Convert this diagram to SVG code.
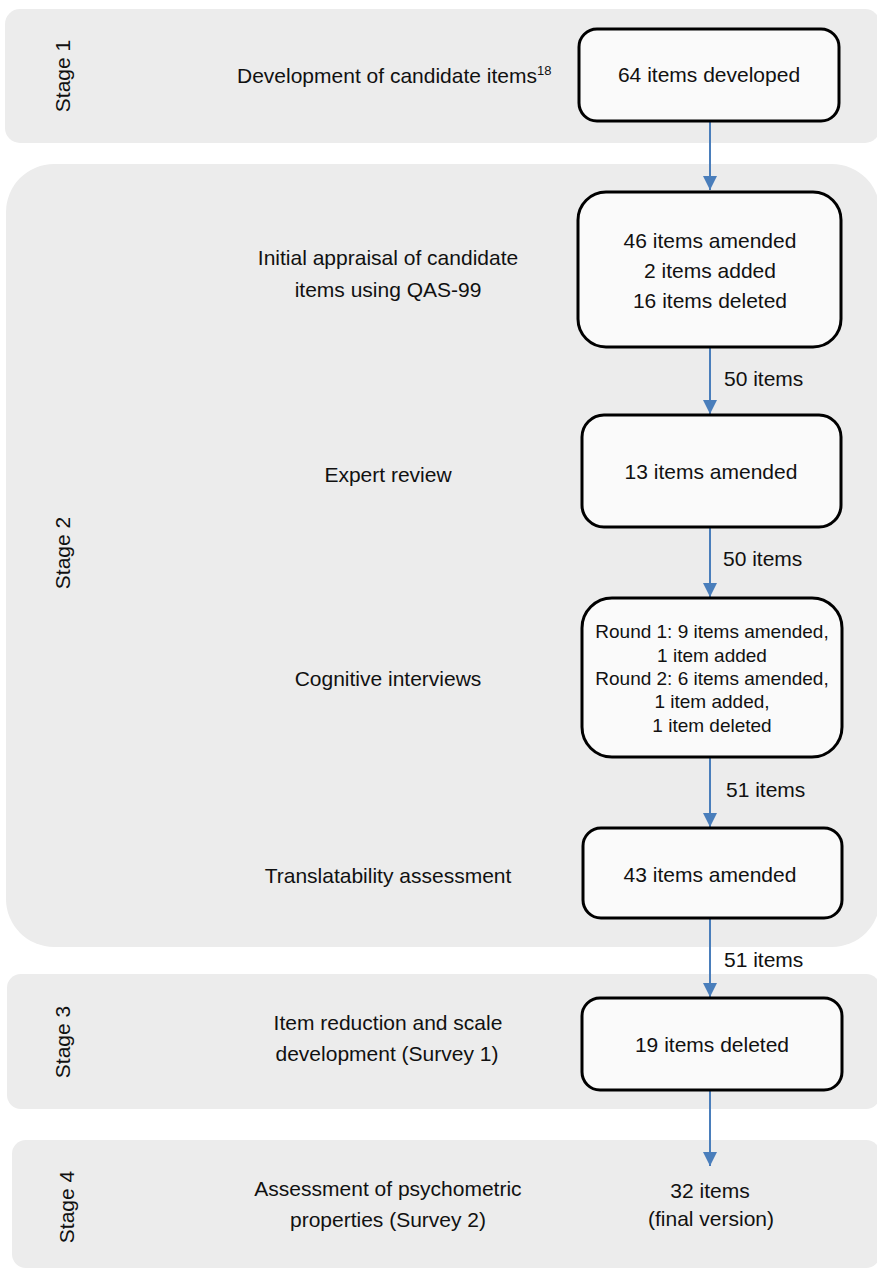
<svg xmlns="http://www.w3.org/2000/svg" width="877" height="1270" viewBox="0 0 877 1270">
<defs>
<style>
.stage{fill:#ececec;}
.box{fill:#fafafa;stroke:#000;stroke-width:3;}
.t{font-family:"Liberation Sans",Arial,sans-serif;font-size:21px;fill:#111;}
.c{text-anchor:middle;}
.sm{font-size:19px;}
.conn{stroke:#4a7ebb;stroke-width:2;fill:none;marker-end:url(#ah);}
</style>
<marker id="ah" viewBox="0 0 14 14" refX="14" refY="7" markerWidth="14" markerHeight="14" markerUnits="userSpaceOnUse" orient="auto">
<path d="M0,0 L14,7 L0,14 Z" fill="#4a7ebb"/>
</marker>
</defs>
<rect width="877" height="1270" fill="#fff"/>
<g id="stage1">
<rect class="stage" x="5" y="9" width="875" height="134" rx="15"/>
<text class="t c" transform="rotate(-90 62 76)" x="62" y="76" dominant-baseline="central">Stage 1</text>
<text class="t" x="237" y="83">Development of candidate items<tspan font-size="13" dy="-8">18</tspan></text>
</g>
<g id="stage2">
<rect class="stage" x="6" y="164" width="874" height="783" rx="48"/>
<text class="t c" transform="rotate(-90 62 553)" x="62" y="553" dominant-baseline="central">Stage 2</text>
<text class="t c" x="388" y="265">Initial appraisal of candidate</text>
<text class="t c" x="388" y="297">items using QAS-99</text>
<text class="t c" x="388" y="482">Expert review</text>
<text class="t c" x="388" y="686">Cognitive interviews</text>
<text class="t c" x="388" y="883">Translatability assessment</text>
</g>
<g id="stage3">
<rect class="stage" x="7" y="974" width="873" height="135" rx="14"/>
<text class="t c" transform="rotate(-90 62 1042)" x="62" y="1042" dominant-baseline="central">Stage 3</text>
<text class="t c" x="388" y="1030">Item reduction and scale</text>
<text class="t c" x="387" y="1061">development (Survey 1)</text>
</g>
<g id="stage4">
<rect class="stage" x="12" y="1140" width="868" height="128" rx="14"/>
<text class="t c" transform="rotate(-90 66 1207)" x="66" y="1207" dominant-baseline="central">Stage 4</text>
<text class="t c" x="388" y="1196">Assessment of psychometric</text>
<text class="t c" x="388" y="1227">properties (Survey 2)</text>
<text class="t c" x="710" y="1198">32 items</text>
<text class="t c" x="711" y="1226">(final version)</text>
</g>
<g id="connectors">
<line class="conn" x1="710" y1="121" x2="710" y2="190"/>
<line class="conn" x1="710" y1="347" x2="710" y2="414"/>
<line class="conn" x1="710" y1="527" x2="710" y2="597"/>
<line class="conn" x1="710" y1="757" x2="710" y2="827"/>
<line class="conn" x1="710" y1="919" x2="710" y2="997"/>
<line class="conn" x1="710" y1="1090" x2="710" y2="1166"/>
<text class="t" x="724" y="386">50 items</text>
<text class="t" x="723" y="566">50 items</text>
<text class="t" x="726" y="797">51 items</text>
<text class="t" x="724" y="967">51 items</text>
</g>
<g id="n1">
<rect class="box" x="579" y="29" width="260" height="92" rx="18"/>
<text class="t c" x="709" y="82">64 items developed</text>
</g>
<g id="n2">
<rect class="box" x="578" y="192" width="263" height="155" rx="28"/>
<text class="t c" x="710" y="248">46 items amended</text>
<text class="t c" x="710" y="278">2 items added</text>
<text class="t c" x="710" y="308">16 items deleted</text>
</g>
<g id="n3">
<rect class="box" x="582" y="415" width="259" height="112" rx="22"/>
<text class="t c" x="711" y="479">13 items amended</text>
</g>
<g id="n4">
<rect class="box" x="582" y="598" width="260" height="159" rx="30"/>
<text class="t c sm" x="712" y="638">Round 1: 9 items amended,</text>
<text class="t c sm" x="712" y="662">1 item added</text>
<text class="t c sm" x="712" y="685">Round 2: 6 items amended,</text>
<text class="t c sm" x="712" y="708">1 item added,</text>
<text class="t c sm" x="712" y="732">1 item deleted</text>
</g>
<g id="n5">
<rect class="box" x="583" y="828" width="259" height="90" rx="18"/>
<text class="t c" x="710" y="882">43 items amended</text>
</g>
<g id="n6">
<rect class="box" x="582" y="998" width="260" height="92" rx="18"/>
<text class="t c" x="712" y="1052">19 items deleted</text>
</g>
</svg>
